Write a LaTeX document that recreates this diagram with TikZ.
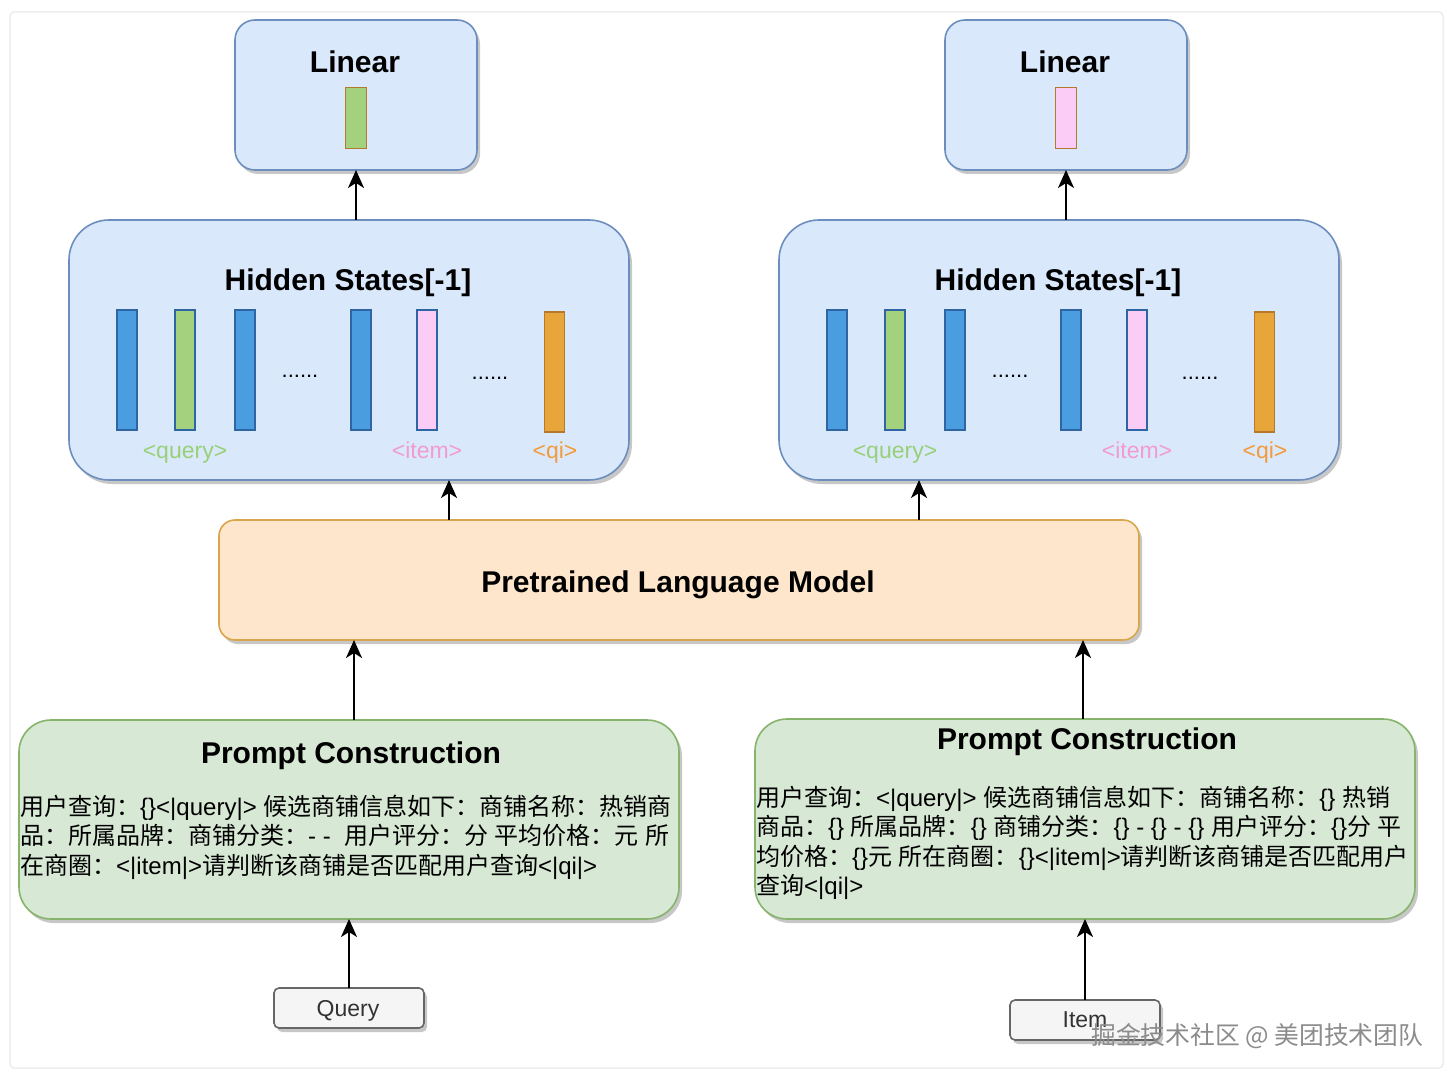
\documentclass[tikz,border=0pt]{standalone}
\usepackage{fontspec}
\setmainfont{Liberation Sans}
\newfontfamily\cjkf{Noto Sans CJK SC}
\usetikzlibrary{arrows.meta,shadows}
\newcommand{\C}[1]{{\cjkf #1}}
\definecolor{bluefill}{HTML}{DAE8FC}
\definecolor{blueline}{HTML}{6C8EBF}
\definecolor{orfill}{HTML}{FDE6CB}
\definecolor{orline}{HTML}{DAA64C}
\definecolor{grfill}{HTML}{D7E8D4}
\definecolor{grline}{HTML}{86B46C}
\definecolor{gyfill}{HTML}{F5F5F5}
\definecolor{gyline}{HTML}{666666}
\definecolor{gytext}{HTML}{333333}
\definecolor{barblue}{HTML}{4A9DDF}
\definecolor{barblueline}{HTML}{2F65A3}
\definecolor{bargreen}{HTML}{A3D17E}
\definecolor{barpink}{HTML}{FBCCF5}
\definecolor{barorange}{HTML}{E8A63A}
\definecolor{barorline}{HTML}{B5792B}
\definecolor{lblgreen}{HTML}{97D077}
\definecolor{lblpink}{HTML}{F29BD3}
\definecolor{lblorange}{HTML}{F39A3A}
\definecolor{frame}{HTML}{E4E4E4}
\definecolor{wmark}{HTML}{8C8C8C}
\newcommand{\ftitle}{\fontsize{30}{36}\selectfont\bfseries}
\newcommand{\fbody}{\fontsize{24}{29}\selectfont}
\newcommand{\flabel}{\fontsize{23}{28}\selectfont}
\tikzset{
  boxbase/.style={draw, line width=1.6pt, inner sep=0pt, outer sep=0pt,
    drop shadow={shadow xshift=3pt, shadow yshift=-4pt, opacity=0.22, fill=black}},
  bluebox/.style={boxbase, fill=bluefill, draw=blueline},
  orbox/.style={boxbase, fill=orfill, draw=orline, rounded corners=16pt},
  grbox/.style={boxbase, fill=grfill, draw=grline, rounded corners=32pt},
  gybox/.style={boxbase, fill=gyfill, draw=gyline, rounded corners=5pt},
  bar/.style={draw=barblueline, line width=1.3pt, inner sep=0pt, minimum width=20pt, minimum height=120pt},
  bblue/.style={bar, fill=barblue},
  bgreen/.style={bar, fill=bargreen},
  bpink/.style={bar, fill=barpink},
  borange/.style={bar, fill=barorange, draw=barorline},
  smallbar/.style={draw=barorline, line width=1.3pt, inner sep=0pt, minimum width=21pt, minimum height=61pt},
  title/.style={anchor=base, inner sep=0pt, font=\ftitle},
  lbl/.style={anchor=base, inner sep=0pt, font=\flabel},
  dots/.style={anchor=base, inner sep=0pt, font=\fontsize{22}{26}\selectfont},
  body/.style={anchor=base west, inner sep=0pt, font=\fbody},
  arr/.style={line width=2pt, -{Stealth[length=18pt,width=16pt,inset=5pt]}}
}
\begin{document}
\begin{tikzpicture}[x=1pt,y=-1pt]
\useasboundingbox (0,0) rectangle (1454,1078);
\fill[white] (0,0) rectangle (1454,1078);
\draw[frame, line width=1pt, rounded corners=4pt] (10,12) rectangle (1443,1068);

% Linear boxes
\node[bluebox, rounded corners=20pt, minimum width=242pt, minimum height=150pt] (lin1) at (356,95) {};
\node[bluebox, rounded corners=20pt, minimum width=242pt, minimum height=150pt] (lin2) at (1066,95) {};
\node[title] (lint1) at (355,73) {Linear};
\node[title] (lint2) at (1065,73) {Linear};
\node[smallbar, fill=bargreen] (lb1) at (356,118) {};
\node[smallbar, fill=barpink] (lb2) at (1066,118) {};

% Hidden states boxes
\node[bluebox, rounded corners=40pt, minimum width=560pt, minimum height=260pt] (hs1) at (349,350) {};
\node[bluebox, rounded corners=40pt, minimum width=560pt, minimum height=260pt] (hs2) at (1059,350) {};
\node[title] (hst1) at (348,290) {Hidden States[-1]};
\node[title] (hst2) at (1058,290) {Hidden States[-1]};

% bars left
\node[bblue]  (a1) at (127,370) {};
\node[bgreen] (a2) at (185,370) {};
\node[bblue]  (a3) at (245,370) {};
\node[dots]   (ad1) at (300,377) {......};
\node[bblue]  (a4) at (361,370) {};
\node[bpink]  (a5) at (427,370) {};
\node[dots]   (ad2) at (490,379) {......};
\node[borange] (a6) at (554.5,372) {};
\node[lbl, text=lblgreen]  (al1) at (185,458) {<query>};
\node[lbl, text=lblpink]   (al2) at (427,458) {<item>};
\node[lbl, text=lblorange] (al3) at (555,458) {<qi>};

% bars right
\node[bblue]  (b1) at (837,370) {};
\node[bgreen] (b2) at (895,370) {};
\node[bblue]  (b3) at (955,370) {};
\node[dots]   (bd1) at (1010,377) {......};
\node[bblue]  (b4) at (1071,370) {};
\node[bpink]  (b5) at (1137,370) {};
\node[dots]   (bd2) at (1200,379) {......};
\node[borange] (b6) at (1264.5,372) {};
\node[lbl, text=lblgreen]  (bl1) at (895,458) {<query>};
\node[lbl, text=lblpink]   (bl2) at (1137,458) {<item>};
\node[lbl, text=lblorange] (bl3) at (1265,458) {<qi>};

% PLM
\node[orbox, minimum width=920pt, minimum height=120pt] (plm) at (679,580) {};
\node[title] (plmt) at (678,592) {Pretrained Language Model};

% Prompt boxes
\node[grbox, minimum width=660pt, minimum height=199pt] (pc1) at (349,819.5) {};
\node[grbox, minimum width=660pt, minimum height=200pt] (pc2) at (1085,819) {};
\node[title] (pct1) at (351,763) {Prompt Construction};
\node[title] (pct2) at (1087,749) {Prompt Construction};

\node[body] (p1a) at (20,815) {\C{用户查询：}\{\}<|query|> \C{候选商铺信息如下：商铺名称：热销商}};
\node[body] (p1b) at (20,844.5) {\C{品：所属品牌：商铺分类：}- -\ \ \C{用户评分：分} \C{平均价格：元} \C{所}};
\node[body] (p1c) at (20,874) {\C{在商圈：}<|item|>\C{请判断该商铺是否匹配用户查询}<|qi|>};

\node[body] (p2a) at (756,806) {\C{用户查询：}<|query|> \C{候选商铺信息如下：商铺名称：}\{\} \C{热销}};
\node[body] (p2b) at (756,835.5) {\C{商品：}\{\} \C{所属品牌：}\{\} \C{商铺分类：}\{\} - \{\} - \{\} \C{用户评分：}\{\}\C{分} \C{平}};
\node[body] (p2c) at (756,865) {\C{均价格：}\{\}\C{元} \C{所在商圈：}\{\}<|item|>\C{请判断该商铺是否匹配用户}};
\node[body] (p2d) at (756,894) {\C{查询}<|qi|>};

% Inputs
\node[gybox, minimum width=150pt, minimum height=40pt] (q) at (349,1008) {};
\node[gybox, minimum width=150pt, minimum height=40pt] (it) at (1085,1020) {};
\node[anchor=base, inner sep=0pt, text=gytext, font=\fontsize{23}{28}\selectfont] (qt) at (348,1016) {Query};
\node[anchor=base, inner sep=0pt, text=gytext, font=\fontsize{23}{28}\selectfont] (itt) at (1085,1027) {Item};

% watermark
\node[anchor=base west, inner sep=0pt, text=wmark, font=\cjkf\fontsize{24.8}{28}\selectfont] (wm) at (1091,1044) {掘金技术社区 @ 美团技术团队};

% helper x positions
\coordinate (x1) at (449,500);
\coordinate (x2) at (919,500);
\coordinate (x3) at (354,680);
\coordinate (x4) at (1083,680);

% connectors
\draw[arr] (hs1.north -| lin1.south) -- (lin1.south);
\draw[arr] (hs2.north -| lin2.south) -- (lin2.south);
\draw[arr] (plm.north -| x1) -- (hs1.south -| x1);
\draw[arr] (plm.north -| x2) -- (hs2.south -| x2);
\draw[arr] (pc1.north -| x3) -- (plm.south -| x3);
\draw[arr] (pc2.north -| x4) -- (plm.south -| x4);
\draw[arr] (q.north) -- (pc1.south -| q.north);
\draw[arr] (it.north) -- (pc2.south -| it.north);
\end{tikzpicture}
\end{document}
